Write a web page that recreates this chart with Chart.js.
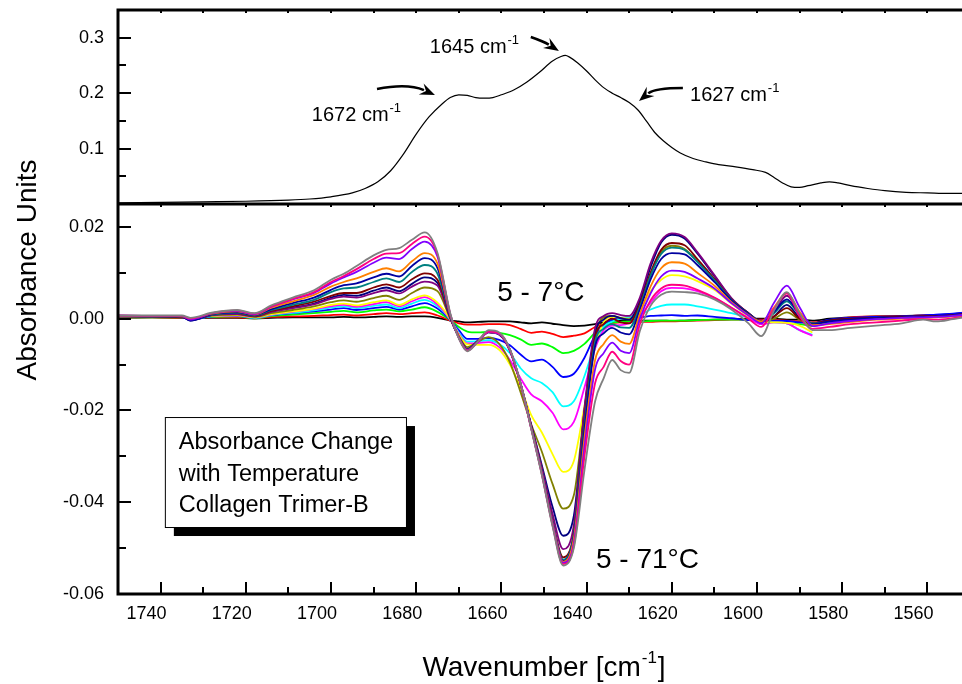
<!DOCTYPE html>
<html><head><meta charset="utf-8">
<script src="https://cdn.jsdelivr.net/npm/chart.js@4.4.1/dist/chart.umd.min.js"></script>
<style>
html,body{margin:0;padding:0;overflow:hidden;background:#fff;width:962px;height:684px}
#wrap{position:relative;width:990px;height:684px}
</style></head>
<body><div id="wrap"><canvas id="c"></canvas></div>
<script>
// ---------- DATA ----------
// top panel: absorbance spectrum
const absWavenumbers = [1750,1740,1730,1720,1710,1705,1700,1695,1692,1689,1686,1683,1680,1677,1674,1672,1670,1668,1666,1664,1662,1660,1657,1654,1651,1648,1646,1645,1644,1642,1640,1638,1636,1634,1632,1630,1628,1626,1624,1622,1620,1618,1615,1612,1609,1605,1601,1598,1596,1594,1592,1590,1588,1585,1583,1581,1578,1574,1570,1565,1560,1555,1550];
const absorbance = [0.002,0.003,0.004,0.005,0.007,0.009,0.013,0.020,0.028,0.040,0.060,0.090,0.126,0.157,0.180,0.192,0.197,0.196,0.192,0.191,0.192,0.197,0.206,0.220,0.238,0.258,0.266,0.268,0.265,0.254,0.240,0.224,0.210,0.200,0.192,0.183,0.170,0.150,0.129,0.114,0.102,0.092,0.082,0.076,0.071,0.067,0.062,0.057,0.048,0.038,0.031,0.030,0.033,0.038,0.040,0.038,0.033,0.028,0.024,0.021,0.020,0.019,0.019];

// bottom panel: difference spectra (5 - T °C)
const wavenumbers = [
1750,1742,1735,1733,1728,1722,1718,1714,1709,1704,
1700,1697,1694,1690,1687,1684,1681,1678,1675,1672,
1670,1668,1665.5,1663,1660.5,1658,1655.5,1653,1650.5,1648,
1645.5,1643,1640.5,1638,1636,1634,1632,1630,1627.5,1625,
1622.5,1620,1617,1614,1610,1606,1602,1599,1596,1593,
1590,1587,1583,1578,1572,1566,1561,1558,1554,1550];

const d7 = [0.0002,0.0003,0.0002,0.0001,0.0002,0.0002,0.0001,0.0002,0.0003,0.0003,
0.0003,0.0004,0.0003,0.0004,0.0005,0.0004,0.0005,0.0005,0.0002,-0.0004,
-0.0006,-0.0008,-0.0007,-0.0006,-0.0006,-0.0006,-0.0008,-0.0010,-0.0008,-0.0011,
-0.0014,-0.0016,-0.0015,-0.0012,-0.0008,-0.0005,-0.0004,-0.0003,-0.0004,-0.0004,
-0.0004,-0.0005,-0.0004,-0.0003,-0.0002,-0.0001,0.0000,0.0000,0.0000,-0.0002,
-0.0002,-0.0004,0.0000,0.0003,0.0005,0.0006,0.0007,0.0008,0.0010,0.0013];
const dRed = [0.0003,0.0003,0.0002,0.0002,0.0003,0.0003,0.0001,0.0004,0.0005,0.0006,
0.0008,0.0009,0.0007,0.0010,0.0012,0.0010,0.0012,0.0014,0.0007,-0.0004,
-0.0010,-0.0013,-0.0013,-0.0012,-0.0012,-0.0014,-0.0022,-0.0031,-0.0028,-0.0033,
-0.0040,-0.0037,-0.0032,-0.0018,-0.0012,-0.0009,-0.0008,-0.0007,-0.0007,-0.0007,
-0.0006,-0.0006,-0.0005,-0.0004,-0.0003,-0.0002,-0.0002,-0.0002,-0.0003,-0.0004,
-0.0006,-0.0008,-0.0003,0.0003,0.0005,0.0005,0.0007,0.0007,0.0009,0.0011];
const dGreen = [0.0003,0.0003,0.0003,0.0001,0.0004,0.0005,0.0001,0.0006,0.0009,0.0012,
0.0015,0.0017,0.0014,0.0018,0.0020,0.0016,0.0020,0.0025,0.0015,-0.0003,
-0.0018,-0.0028,-0.0030,-0.0029,-0.0031,-0.0036,-0.0045,-0.0057,-0.0054,-0.0062,
-0.0075,-0.0070,-0.0055,-0.0030,-0.0012,-0.0008,-0.0007,-0.0006,-0.0006,-0.0005,
-0.0004,-0.0004,-0.0004,-0.0003,-0.0002,-0.0002,-0.0002,-0.0005,-0.0005,-0.0010,
-0.0012,-0.0016];
const dBlue = [0.0004,0.0004,0.0003,-0.0002,0.0005,0.0006,0.0002,0.0008,0.0012,0.0016,
0.0020,0.0023,0.0019,0.0023,0.0026,0.0020,0.0027,0.0034,0.0022,-0.0003,
-0.0025,-0.0044,-0.0044,-0.0042,-0.0046,-0.0058,-0.0078,-0.0093,-0.0089,-0.0105,
-0.0127,-0.0120,-0.0085,-0.0036,-0.0012,-0.0002,0.0002,0.0003,0.0003,0.0006,
0.0007,0.0008,0.0006,0.0007,0.0004,0.0001,-0.0003,-0.0004,-0.0004,-0.0005,
-0.0008,-0.0010,-0.0002,0.0002,0.0004,0.0005,0.0007,0.0009,0.0011,0.0014];
const dCyan = [0.0004,0.0004,0.0004,0.0000,0.0005,0.0007,0.0002,0.0008,0.0013,0.0018,
0.0024,0.0027,0.0023,0.0028,0.0031,0.0023,0.0033,0.0041,0.0027,-0.0002,
-0.0030,-0.0050,-0.0049,-0.0047,-0.0055,-0.0075,-0.0108,-0.0130,-0.0140,-0.0160,
-0.0191,-0.0180,-0.0125,-0.0055,-0.0018,-0.0006,0.0000,0.0004,0.0008,0.0020,
0.0028,0.0031,0.0031,0.0027,0.0020,0.0012,0.0002,-0.0008,-0.0008,-0.0010,
-0.0025,-0.0035];
const dMagenta = [0.0004,0.0004,0.0004,0.0001,0.0006,0.0007,0.0003,0.0009,0.0015,0.0021,
0.0027,0.0030,0.0026,0.0032,0.0036,0.0027,0.0038,0.0047,0.0031,-0.0002,
-0.0033,-0.0054,-0.0053,-0.0051,-0.0062,-0.0090,-0.0130,-0.0165,-0.0180,-0.0205,
-0.0241,-0.0225,-0.0150,-0.0065,-0.0025,-0.0015,-0.0014,-0.0010,0.0005,0.0035,
0.0060,0.0067,0.0066,0.0060,0.0045,0.0024,0.0002,-0.0012,-0.0008,-0.0010,
-0.0025,-0.0037];
const dYellow = [0.0004,0.0004,0.0004,0.0001,0.0006,0.0008,0.0003,0.0010,0.0016,0.0022,
0.0030,0.0033,0.0029,0.0036,0.0040,0.0030,0.0042,0.0051,0.0035,-0.0001,
-0.0035,-0.0056,-0.0057,-0.0057,-0.0068,-0.0100,-0.0150,-0.0210,-0.0248,-0.0295,
-0.0334,-0.0310,-0.0190,-0.0060,-0.0008,0.0004,0.0002,0.0000,0.0020,0.0060,
0.0085,0.0095,0.0092,0.0082,0.0063,0.0033,0.0006,-0.0006,-0.0008,-0.0009,
-0.0015,-0.0030];
const dOlive = [0.0005,0.0004,0.0004,0.0000,0.0007,0.0009,0.0004,0.0012,0.0019,0.0027,
0.0036,0.0040,0.0037,0.0045,0.0050,0.0041,0.0056,0.0068,0.0060,0.0000,
-0.0038,-0.0062,-0.0050,-0.0040,-0.0055,-0.0095,-0.0160,-0.0230,-0.0290,-0.0360,
-0.0414,-0.0385,-0.0200,-0.0035,0.0003,0.0006,0.0002,-0.0002,0.0030,0.0095,
0.0145,0.0159,0.0152,0.0125,0.0085,0.0040,0.0010,-0.0006,0.0000,0.0014,
-0.0002,-0.0015,-0.0010,-0.0005,0.0000,0.0002,0.0004,0.0004,0.0006,0.0008];
const dNavy = [0.0005,0.0005,0.0004,-0.0004,0.0008,0.0011,0.0006,0.0016,0.0024,0.0033,
0.0046,0.0052,0.0050,0.0061,0.0068,0.0060,0.0076,0.0090,0.0078,0.0002,
-0.0040,-0.0066,-0.0048,-0.0030,-0.0035,-0.0070,-0.0142,-0.0232,-0.0320,-0.0410,
-0.0473,-0.0430,-0.0200,-0.0030,-0.0002,0.0006,0.0001,-0.0002,0.0040,0.0112,
0.0166,0.0183,0.0175,0.0142,0.0093,0.0044,0.0012,-0.0006,0.0005,0.0030,
0.0002,-0.0010,-0.0003,0.0000,0.0002,0.0004,0.0006,0.0006,0.0008,0.0012];
const dPurple = [0.0005,0.0005,0.0004,-0.0003,0.0008,0.0010,0.0005,0.0015,0.0023,0.0031,
0.0043,0.0048,0.0046,0.0056,0.0062,0.0055,0.0070,0.0081,0.0072,0.0001,
-0.0040,-0.0066,-0.0048,-0.0029,-0.0034,-0.0069,-0.0142,-0.0233,-0.0325,-0.0425,
-0.0502,-0.0450,-0.0195,-0.0020,0.0006,0.0012,0.0008,0.0006,0.0046,0.0120,
0.0170,0.0186,0.0178,0.0145,0.0095,0.0045,0.0012,-0.0006,0.0015,0.0050,
0.0012,-0.0010,-0.0006,-0.0002,0.0001,0.0003,0.0005,0.0005,0.0007,0.0011];
const dWine = [0.0005,0.0005,0.0004,-0.0001,0.0009,0.0012,0.0006,0.0017,0.0027,0.0037,
0.0050,0.0056,0.0056,0.0068,0.0075,0.0068,0.0086,0.0099,0.0085,0.0003,
-0.0040,-0.0067,-0.0048,-0.0029,-0.0033,-0.0068,-0.0142,-0.0235,-0.0330,-0.0440,
-0.0520,-0.0466,-0.0220,-0.0040,-0.0012,0.0000,-0.0008,-0.0010,0.0032,0.0100,
0.0150,0.0165,0.0160,0.0130,0.0087,0.0042,0.0012,-0.0006,0.0005,0.0023,
0.0000,-0.0010,-0.0004,0.0000,0.0002,0.0004,0.0005,0.0006,0.0008,0.0012];
const dTeal = [0.0005,0.0005,0.0005,-0.0002,0.0009,0.0013,0.0007,0.0019,0.0030,0.0041,
0.0058,0.0066,0.0068,0.0080,0.0088,0.0080,0.0102,0.0117,0.0098,0.0004,
-0.0040,-0.0067,-0.0049,-0.0029,-0.0033,-0.0068,-0.0142,-0.0236,-0.0332,-0.0442,
-0.0525,-0.0470,-0.0230,-0.0050,-0.0022,-0.0012,-0.0019,-0.0020,0.0026,0.0094,
0.0141,0.0155,0.0150,0.0124,0.0084,0.0041,0.0011,-0.0006,0.0012,0.0038,
0.0008,-0.0010,-0.0008,-0.0004,0.0000,0.0002,0.0004,0.0004,0.0006,0.0010];
const dRoyal = [0.0006,0.0005,0.0005,-0.0004,0.0010,0.0014,0.0008,0.0021,0.0034,0.0046,
0.0063,0.0073,0.0077,0.0090,0.0098,0.0092,0.0115,0.0132,0.0110,0.0005,
-0.0040,-0.0067,-0.0049,-0.0029,-0.0033,-0.0068,-0.0142,-0.0237,-0.0334,-0.0444,
-0.0528,-0.0475,-0.0240,-0.0060,-0.0032,-0.0020,-0.0030,-0.0034,0.0020,0.0085,
0.0130,0.0143,0.0140,0.0117,0.0080,0.0040,0.0011,-0.0006,0.0015,0.0042,
0.0010,-0.0012,-0.0006,-0.0002,0.0001,0.0003,0.0004,0.0005,0.0007,0.0011];
const dOrange = [0.0006,0.0006,0.0005,0.0000,0.0011,0.0016,0.0009,0.0024,0.0038,0.0052,
0.0070,0.0080,0.0088,0.0102,0.0110,0.0103,0.0125,0.0143,0.0120,0.0007,
-0.0041,-0.0068,-0.0050,-0.0029,-0.0033,-0.0068,-0.0142,-0.0238,-0.0336,-0.0446,
-0.0530,-0.0480,-0.0260,-0.0090,-0.0055,-0.0036,-0.0050,-0.0055,0.0010,0.0070,
0.0110,0.0123,0.0120,0.0100,0.0072,0.0036,0.0008,-0.0006,0.0025,0.0056,
0.0015,-0.0014,-0.0012,-0.0007,-0.0002,0.0000,0.0002,0.0003,0.0005,0.0009];
const dViolet = [0.0007,0.0006,0.0006,-0.0002,0.0012,0.0017,0.0010,0.0026,0.0042,0.0056,
0.0077,0.0090,0.0102,0.0122,0.0133,0.0130,0.0152,0.0168,0.0135,0.0009,
-0.0042,-0.0069,-0.0050,-0.0029,-0.0033,-0.0068,-0.0142,-0.0239,-0.0338,-0.0448,
-0.0532,-0.0490,-0.0280,-0.0110,-0.0075,-0.0052,-0.0070,-0.0075,0.0000,0.0055,
0.0092,0.0105,0.0102,0.0088,0.0066,0.0034,0.0007,-0.0010,0.0035,0.0072,
0.0025,-0.0016,-0.0010,-0.0005,-0.0001,0.0002,0.0003,0.0004,0.0006,0.0010];
const dPink = [0.0007,0.0006,0.0006,0.0000,0.0012,0.0018,0.0011,0.0027,0.0043,0.0058,
0.0080,0.0093,0.0108,0.0130,0.0142,0.0143,0.0163,0.0179,0.0140,0.0010,
-0.0042,-0.0070,-0.0050,-0.0028,-0.0032,-0.0068,-0.0142,-0.0240,-0.0340,-0.0450,
-0.0535,-0.0495,-0.0300,-0.0140,-0.0105,-0.0072,-0.0092,-0.0100,-0.0012,0.0040,
0.0066,0.0074,0.0072,0.0063,0.0046,0.0024,0.0000,-0.0018,0.0022,0.0055,
0.0005,-0.0022,-0.0018,-0.0012,-0.0008,-0.0004,-0.0001,-0.0002,0.0001,0.0006];
const dGray = [0.0007,0.0007,0.0007,0.0002,0.0013,0.0019,0.0012,0.0029,0.0046,0.0062,
0.0085,0.0098,0.0115,0.0138,0.0150,0.0154,0.0172,0.0188,0.0143,0.0012,
-0.0043,-0.0071,-0.0050,-0.0025,-0.0030,-0.0066,-0.0140,-0.0240,-0.0341,-0.0452,
-0.0538,-0.0500,-0.0330,-0.0180,-0.0130,-0.0090,-0.0112,-0.0118,-0.0027,0.0028,
0.0052,0.0059,0.0058,0.0055,0.0042,0.0020,-0.0010,-0.0038,0.0018,0.0058,
0.0012,-0.0025,-0.0025,-0.0020,-0.0015,-0.0010,-0.0002,-0.0006,-0.0001,0.0005];

const seriesLabels = ['5-7°C','red','green','blue','cyan','magenta','yellow','olive','navy','purple','wine','teal','royal','orange','violet','pink','5-71°C'];
const seriesValues = [d7,dRed,dGreen,dBlue,dCyan,dMagenta,dYellow,dOlive,dNavy,dPurple,dWine,dTeal,dRoyal,dOrange,dViolet,dPink,dGray];

const xTickValues = [1740,1720,1700,1680,1660,1640,1620,1600,1580,1560];
const topTickValues = [0.1,0.2,0.3];
const bottomTickValues = [-0.06,-0.04,-0.02,0.00,0.02];

// ---------- STYLE ----------
const palette = ['#000000','#FF0000','#00FF00','#0000FF','#00FFFF','#FF00FF','#FFFF00','#808000','#000080','#800080','#800000','#008080','#0000A0','#FF8000','#8000FF','#FF0080','#808080'];
const FONT = '"Liberation Sans", Arial, Helvetica, sans-serif';

const datasets = [];
datasets.push({
  label:'Absorbance', yAxisID:'yTop', xAxisID:'x',
  data: absWavenumbers.map((w,i)=>({x:w, y:absorbance[i]})),
  borderColor:'#000', borderWidth:1.2, pointRadius:0, cubicInterpolationMode:'monotone', order:0
});
seriesValues.forEach((vals,k)=>{
  datasets.push({
    label: seriesLabels[k], yAxisID:'yBot', xAxisID:'x',
    data: vals.map((v,i)=>({x:wavenumbers[i], y:v})),
    borderColor: palette[k], borderWidth:1.8, pointRadius:0,
    cubicInterpolationMode:'monotone', order: 30 - k
  });
});

const frameAndText = {
  id:'frameAndText',
  afterDraw(chart){
    const {ctx, chartArea:a, scales} = chart;
    const sx = scales.x, st = scales.yTop, sb = scales.yBot;
    const div = sb.top;
    ctx.save();
    ctx.strokeStyle = '#000';
    ctx.lineCap = 'butt';
    // ticks
    ctx.lineWidth = 2;
    ctx.beginPath();
    for (let v = 1560; v <= 1740; v += 10){
      const px = Math.round(sx.getPixelForValue(v));
      const L = (v % 20 === 0) ? 12 : 7;
      ctx.moveTo(px, a.bottom); ctx.lineTo(px, a.bottom - L);
      ctx.moveTo(px, a.top); ctx.lineTo(px, a.top + 3);
      ctx.moveTo(px, div); ctx.lineTo(px, div + 3);
    }
    for (let k = 1; k <= 6; k++){
      const py = Math.round(st.getPixelForValue(k*0.05));
      const L = (k % 2 === 0) ? 13 : 8;
      ctx.moveTo(a.left, py); ctx.lineTo(a.left + L, py);
    }
    for (let k = -5; k <= 2; k++){
      const py = Math.round(sb.getPixelForValue(k*0.01));
      const L = (k % 2 === 0) ? 13 : 8;
      ctx.moveTo(a.left, py); ctx.lineTo(a.left + L, py);
    }
    ctx.stroke();
    // frame
    ctx.lineWidth = 3;
    ctx.beginPath();
    ctx.moveTo(a.left - 1.5, a.top); ctx.lineTo(a.right, a.top);
    ctx.moveTo(a.left - 1.5, div); ctx.lineTo(a.right, div);
    ctx.moveTo(a.left - 1.5, a.bottom); ctx.lineTo(a.right, a.bottom);
    ctx.moveTo(a.left, a.top); ctx.lineTo(a.left, a.bottom);
    ctx.stroke();

    ctx.fillStyle = '#000';
    const supText = (base, sup, x, y, size, supSize, rise) => {
      ctx.textAlign = 'left'; ctx.textBaseline = 'alphabetic';
      ctx.font = size + 'px ' + FONT;
      const w1 = ctx.measureText(base).width;
      ctx.fillText(base, x, y);
      ctx.font = supSize + 'px ' + FONT;
      ctx.fillText(sup, x + w1 + 1, y - rise);
    };
    // axis titles
    ctx.save();
    ctx.translate(28, (a.top + a.bottom) / 2 - 32);
    ctx.rotate(-Math.PI/2);
    ctx.font = '28px ' + FONT; ctx.textAlign = 'center'; ctx.textBaseline = 'middle';
    ctx.fillText('Absorbance Units', 0, 0);
    ctx.restore();
    {
      ctx.font = '28px ' + FONT;
      const wA = ctx.measureText('Wavenumber [cm').width;
      ctx.font = '17px ' + FONT;
      const wS = ctx.measureText('-1').width;
      ctx.font = '28px ' + FONT;
      const wB = ctx.measureText(']').width;
      const cx = (a.left + a.right) / 2;
      let x0 = cx - (wA + wS + wB + 2) / 2;
      const y0 = 676;
      ctx.textAlign = 'left'; ctx.textBaseline = 'alphabetic';
      ctx.fillText('Wavenumber [cm', x0, y0);
      ctx.font = '17px ' + FONT;
      ctx.fillText('-1', x0 + wA + 1, y0 - 13);
      ctx.font = '28px ' + FONT;
      ctx.fillText(']', x0 + wA + wS + 2, y0);
    }
    // peak annotations (positions in data coordinates)
    const P = (w, v, s) => [sx.getPixelForValue(w), s.getPixelForValue(v)];
    let p;
    p = P(1676.8, 0.2724, st); supText('1645 cm', '-1', p[0], p[1], 20, 13, 9);
    p = P(1704.5, 0.1497, st); supText('1672 cm', '-1', p[0], p[1], 20, 13, 9);
    p = P(1615.7, 0.1858, st); supText('1627 cm', '-1', p[0], p[1], 20, 13, 9);
    // arrows
    const arrow = (t, c, h) => {
      const T = P(t[0], t[1], st), C = P(c[0], c[1], st), H = P(h[0], h[1], st);
      const ang = Math.atan2(H[1] - C[1], H[0] - C[0]);
      const len = 15, wid = 6;
      const bx = H[0] - Math.cos(ang) * len * 0.8, by = H[1] - Math.sin(ang) * len * 0.8;
      ctx.lineWidth = 2.5;
      ctx.beginPath(); ctx.moveTo(T[0], T[1]); ctx.quadraticCurveTo(C[0], C[1], bx, by); ctx.stroke();
      const ux = Math.cos(ang), uy = Math.sin(ang);
      const px = -uy, py = ux;
      const baseX = H[0] - ux * len, baseY = H[1] - uy * len;
      ctx.beginPath();
      ctx.moveTo(H[0], H[1]);
      ctx.lineTo(baseX + px * wid, baseY + py * wid);
      ctx.lineTo(H[0] - ux * len * 0.65, H[1] - uy * len * 0.65);
      ctx.lineTo(baseX - px * wid, baseY - py * wid);
      ctx.closePath(); ctx.fill();
    };
    arrow([1653.1, 0.3013], [1650.0, 0.293], [1646.5, 0.276]);
    arrow([1689.2, 0.2075], [1682.0, 0.2180], [1675.6, 0.1967]);
    arrow([1617.4, 0.2093], [1624.0, 0.2093], [1627.7, 0.1858]);
    // temperature labels
    ctx.font = '28px ' + FONT; ctx.textAlign = 'left'; ctx.textBaseline = 'alphabetic';
    p = P(1661.0, 0.00386, sb); ctx.fillText('5 - 7°C', p[0], p[1]);
    p = P(1637.8, -0.0543, sb); ctx.fillText('5 - 71°C', p[0], p[1]);
    // text box with shadow
    const b1 = P(1739.0, -0.02143, sb), b2 = P(1682.4, -0.0454, sb);
    const bw = b2[0] - b1[0], bh = b2[1] - b1[1];
    ctx.fillStyle = '#000'; ctx.fillRect(b1[0] + 9, b1[1] + 9, bw, bh);
    ctx.fillStyle = '#fff'; ctx.fillRect(b1[0], b1[1], bw, bh);
    ctx.lineWidth = 1; ctx.strokeStyle = '#000';
    ctx.strokeRect(b1[0] + 0.5, b1[1] + 0.5, bw, bh);
    ctx.fillStyle = '#000'; ctx.font = '23.5px ' + FONT;
    ctx.fillText('Absorbance Change', b1[0] + 14, b1[1] + 32);
    ctx.fillText('with Temperature', b1[0] + 14, b1[1] + 64);
    ctx.fillText('Collagen Trimer-B', b1[0] + 14, b1[1] + 95);
    ctx.restore();
  }
};

const noPad = s => { s.paddingTop = 0; s.paddingBottom = 0; s.paddingLeft = 0; s.paddingRight = 0; };

new Chart(document.getElementById('c'), {
  type:'line',
  data:{datasets},
  options:{
    responsive:true, maintainAspectRatio:false, animation:false,
    layout:{padding:{left:0, right:20, top:10, bottom:0}},
    plugins:{legend:{display:false}, tooltip:{enabled:false}},
    scales:{
      x:{type:'linear', reverse:true, min:1550, max:1750, position:'bottom',
        grid:{display:false, drawTicks:false}, border:{display:false},
        ticks:{color:'#000', font:{size:18, family:FONT}, padding:9, maxRotation:0, labelOffset:-14, callback:v=>String(v)},
        afterBuildTicks:s=>{ s.ticks = xTickValues.map(v=>({value:v})); },
        afterFit:s=>{ s.height = 90; noPad(s); }
      },
      yBot:{type:'linear', position:'left', stack:'panels', stackWeight:390, min:-0.06, max:0.025,
        grid:{display:false, drawTicks:false}, border:{display:false},
        ticks:{color:'#000', font:{size:18, family:FONT}, padding:14, callback:v=>v.toFixed(2)},
        afterBuildTicks:s=>{ s.ticks = bottomTickValues.map(v=>({value:v})); },
        afterFit:s=>{ s.width = 118; noPad(s); }
      },
      yTop:{type:'linear', position:'left', stack:'panels', stackWeight:194, min:0, max:0.35,
        grid:{display:false, drawTicks:false}, border:{display:false},
        ticks:{color:'#000', font:{size:18, family:FONT}, padding:14, callback:v=>String(v)},
        afterBuildTicks:s=>{ s.ticks = topTickValues.map(v=>({value:v})); },
        afterFit:s=>{ s.width = 118; noPad(s); }
      }
    }
  },
  plugins:[frameAndText]
});
</script>
</body></html>
